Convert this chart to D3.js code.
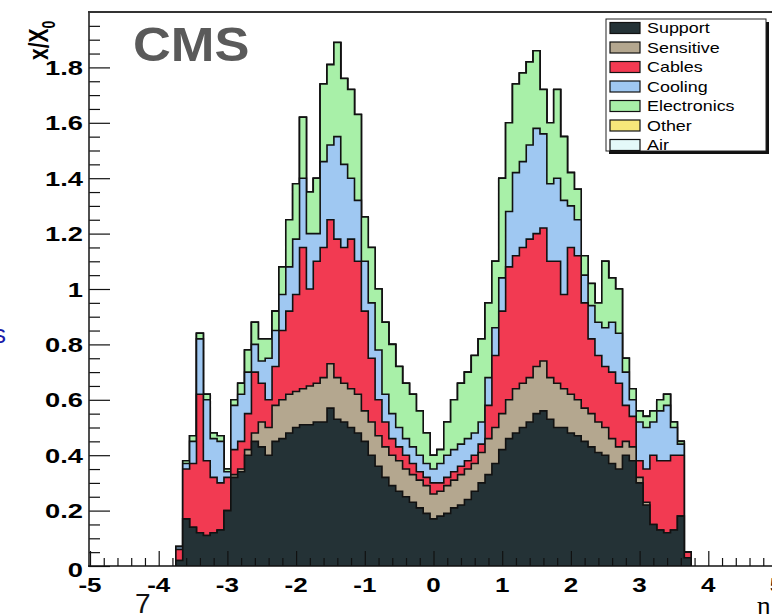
<!DOCTYPE html>
<html>
<head>
<meta charset="utf-8">
<script src="https://cdn.jsdelivr.net/npm/d3@7"></script>
<style>
  body { margin: 0; background: #fff; }
  svg { display: block; }
  text { font-family: "Liberation Sans", Arial, Helvetica, sans-serif; }
</style>
</head>
<body>
<div id="plot"></div>
<script>
// bin centres in eta, 0.1 wide
const etaCenters = d3.range(75).map((i) => +(-3.7 + 0.1 * i).toFixed(1));
const binWidth = 0.1;

// material budget per category, x/X0 (eta -3.7 ... 3.7)
const support = [
  0.02, 0.17, 0.14, 0.12, 0.11, 0.12, 0.13, 0.20, 0.32, 0.34,
  0.40, 0.45, 0.43, 0.40, 0.45, 0.46, 0.48, 0.50, 0.51, 0.51,
  0.52, 0.52, 0.57, 0.53, 0.52, 0.50, 0.48, 0.45, 0.40, 0.36,
  0.32, 0.29, 0.27, 0.25, 0.23, 0.21, 0.19, 0.17,
  0.18, 0.19, 0.21, 0.22, 0.24, 0.27, 0.30, 0.33, 0.37, 0.42,
  0.46, 0.48, 0.50, 0.52, 0.55, 0.56, 0.53, 0.50, 0.50, 0.48,
  0.47, 0.45, 0.43, 0.41, 0.40, 0.37, 0.35, 0.40, 0.38, 0.30,
  0.22, 0.15, 0.13, 0.12, 0.13, 0.18, 0.03,
];
const sensitive = [
  0, 0, 0, 0, 0, 0, 0, 0, 0.01, 0.01,
  0.02, 0.03, 0.09, 0.10, 0.13, 0.14, 0.14, 0.13, 0.13, 0.14,
  0.14, 0.16, 0.16, 0.15, 0.14, 0.14, 0.14, 0.11, 0.12, 0.11,
  0.11, 0.11, 0.11, 0.10, 0.10, 0.10, 0.10, 0.09,
  0.09, 0.10, 0.10, 0.11, 0.11, 0.10, 0.11, 0.13, 0.13, 0.13,
  0.14, 0.16, 0.16, 0.16, 0.17, 0.18, 0.15, 0.16, 0.14, 0.14,
  0.13, 0.12, 0.12, 0.11, 0.10, 0.09, 0.08, 0.05, 0.05, 0.02,
  0.01, 0, 0, 0, 0, 0, 0,
];
const cables = [
  0.04, 0.18, 0.23, 0.50, 0.27, 0.20, 0.17, 0.12, 0.09, 0.10,
  0.13, 0.22, 0.14, 0.10, 0.14, 0.25, 0.30, 0.35, 0.51, 0.35,
  0.44, 0.47, 0.52, 0.50, 0.49, 0.54, 0.48, 0.36, 0.23, 0.13,
  0.09, 0.06, 0.05, 0.05, 0.04, 0.03, 0.03, 0.04,
  0.03, 0.03, 0.03, 0.03, 0.03, 0.03, 0.03, 0.12, 0.26, 0.37,
  0.48, 0.48, 0.49, 0.50, 0.48, 0.48, 0.42, 0.44, 0.34, 0.53,
  0.52, 0.38, 0.27, 0.24, 0.22, 0.24, 0.23, 0.13, 0.11, 0.06,
  0.12, 0.25, 0.25, 0.26, 0.27, 0.22, 0.02,
];
const cooling = [
  0.01, 0.02, 0.08, 0.20, 0.22, 0.14, 0.15, 0.02, 0.16, 0.17,
  0.15, 0.10, 0.08, 0.15, 0.13, 0.13, 0.16, 0.20, 0.25, 0.20,
  0.10, 0.31, 0.27, 0.37, 0.30, 0.22, 0.22, 0.18, 0.20, 0.18,
  0.10, 0.09, 0.07, 0.06, 0.06, 0.06, 0.05, 0.05,
  0.07, 0.08, 0.08, 0.08, 0.08, 0.08, 0.08, 0.10, 0.10, 0.12,
  0.20, 0.30, 0.31, 0.34, 0.38, 0.34, 0.28, 0.30, 0.34, 0.15,
  0.13, 0.10, 0.12, 0.12, 0.14, 0.18, 0.18, 0.12, 0.06, 0.14,
  0.15, 0.12, 0.18, 0.20, 0.10, 0.04, 0,
];
const electronics = [
  0, 0.01, 0.02, 0.02, 0.02, 0.02, 0.02, 0.01, 0.02, 0.04,
  0.08, 0.08, 0.08, 0.07, 0.07, 0.10, 0.17, 0.20, 0.22, 0.15,
  0.20, 0.28, 0.29, 0.34, 0.31, 0.32, 0.31, 0.16, 0.20, 0.22,
  0.26, 0.25, 0.22, 0.20, 0.19, 0.16, 0.11, 0.05,
  0.05, 0.12, 0.18, 0.22, 0.24, 0.28, 0.30, 0.27, 0.24, 0.36,
  0.32, 0.32, 0.32, 0.30, 0.28, 0.16, 0.22, 0.32, 0.23, 0.12,
  0.11, 0.07, 0.08, 0.07, 0.24, 0.16, 0.16, 0.05, 0.04, 0.04,
  0.04, 0.04, 0.04, 0.04, 0.02, 0.01, 0,
];
const other = [
  0, 0, 0, 0, 0, 0, 0, 0, 0, 0, 0, 0, 0, 0, 0, 0, 0, 0, 0, 0,
  0, 0, 0, 0, 0, 0, 0, 0, 0, 0, 0, 0, 0, 0, 0, 0, 0, 0,
  0, 0, 0, 0, 0, 0, 0, 0, 0, 0, 0, 0, 0, 0, 0, 0, 0, 0, 0, 0,
  0, 0, 0, 0, 0, 0, 0, 0, 0, 0, 0, 0, 0, 0, 0, 0, 0,
];
const air = [
  0, 0, 0, 0, 0, 0, 0, 0, 0, 0, 0, 0, 0, 0, 0, 0, 0, 0, 0, 0,
  0, 0, 0, 0, 0, 0, 0, 0, 0, 0, 0, 0, 0, 0, 0, 0, 0, 0,
  0, 0, 0, 0, 0, 0, 0, 0, 0, 0, 0, 0, 0, 0, 0, 0, 0, 0, 0, 0,
  0, 0, 0, 0, 0, 0, 0, 0, 0, 0, 0, 0, 0, 0, 0, 0, 0,
];

const categories = ['Support', 'Sensitive', 'Cables', 'Cooling', 'Electronics', 'Other', 'Air'];
const series = [support, sensitive, cables, cooling, electronics, other, air];
const colors = ['#243236', '#b4a78f', '#f23a52', '#9fc8f2', '#a8f0a8', '#f6e77a', '#e4f9f9'];

const xTicks = [-5, -4, -3, -2, -1, 0, 1, 2, 3, 4, 5];
const yTicks = [0, 0.2, 0.4, 0.6, 0.8, 1, 1.2, 1.4, 1.6, 1.8];

const width = 772;
const height = 614;

const svg = d3.select('#plot')
  .append('svg')
  .attr('width', width)
  .attr('height', height);

svg.append('rect').attr('width', width).attr('height', height).attr('fill', '#fff');

const x = d3.scaleLinear().domain([-5, 5]).range([90, 777]);
const y = d3.scaleLinear().domain([0, 2]).range([566, 12]);

// stack the materials
const rows = etaCenters.map((c, i) => {
  const r = { eta: c };
  categories.forEach((k, j) => { r[k] = series[j][i]; });
  return r;
});
const stacked = d3.stack().keys(categories)(rows);

svg.append('clipPath').attr('id', 'frame')
  .append('rect').attr('x', 89).attr('y', 12).attr('width', 700).attr('height', 554);

const hist = svg.append('g').attr('clip-path', 'url(#frame)');

const stepArea = d3.area()
  .curve(d3.curveStepAfter)
  .x((d) => x(d.x))
  .y0(y(0))
  .y1((d) => y(d.v));
const stepLine = d3.line()
  .curve(d3.curveStepAfter)
  .x((d) => x(d.x))
  .y((d) => y(d.v));

// ROOT draws the stack from the top histogram down
for (let j = stacked.length - 1; j >= 0; j--) {
  const layer = stacked[j];
  const pts = layer.map((d, i) => ({ x: etaCenters[i] - binWidth / 2, v: d[1] }));
  pts.push({ x: etaCenters[etaCenters.length - 1] + binWidth / 2, v: layer[layer.length - 1][1] });
  hist.append('path')
    .attr('d', stepArea(pts))
    .attr('fill', colors[j]);
  const outline = [{ x: pts[0].x, v: 0 }, ...pts, { x: pts[pts.length - 1].x, v: 0 }];
  hist.append('path')
    .attr('d', stepLine(outline))
    .attr('fill', 'none')
    .attr('stroke', '#111')
    .attr('stroke-width', 1.6);
}

// axes ticks, drawn inward like ROOT
const yMinor = d3.range(0, 2.001, 0.05).filter((v) => Math.abs(v * 5 - Math.round(v * 5)) > 1e-6);
const xMinor = d3.range(-5, 5.001, 0.2).filter((v) => Math.abs(v - Math.round(v)) > 1e-6);

const tickAxis = (g) => {
  g.select('.domain').remove();
  g.selectAll('line').attr('stroke', '#111').attr('stroke-width', 1.2);
};

svg.append('g').attr('transform', 'translate(89,0)')
  .call(d3.axisRight(y).tickValues(yTicks).tickSize(21).tickFormat(''))
  .call(tickAxis);
svg.append('g').attr('transform', 'translate(89,0)')
  .call(d3.axisRight(y).tickValues(yMinor).tickSize(11).tickFormat(''))
  .call(tickAxis);
svg.append('g').attr('transform', 'translate(0,566)')
  .call(d3.axisTop(x).tickValues(xTicks).tickSize(15).tickFormat(''))
  .call(tickAxis);
svg.append('g').attr('transform', 'translate(0,566)')
  .call(d3.axisTop(x).tickValues(xMinor).tickSize(8).tickFormat(''))
  .call(tickAxis);

// frame
svg.append('line').attr('x1', 89).attr('x2', 89).attr('y1', 11).attr('y2', 567)
  .attr('stroke', '#222').attr('stroke-width', 1.6);
svg.append('line').attr('x1', 88).attr('x2', width).attr('y1', 12).attr('y2', 12)
  .attr('stroke', '#333').attr('stroke-width', 2.2);
svg.append('line').attr('x1', 88).attr('x2', width).attr('y1', 566).attr('y2', 566)
  .attr('stroke', '#111').attr('stroke-width', 1.6);

// tick labels (the slide is stretched sideways, so the text is too)
yTicks.forEach((v) => {
  svg.append('text')
    .attr('transform', `translate(83,${v === 0 ? 577 : y(v) + 7.5}) scale(1.3,1)`)
    .attr('text-anchor', 'end')
    .style('font-size', '21px')
    .style('font-weight', 'bold')
    .text(String(+v.toFixed(1)));
});
xTicks.forEach((v) => {
  svg.append('text')
    .attr('transform', `translate(${x(v)},592) scale(1.3,1)`)
    .attr('text-anchor', 'middle')
    .style('font-size', '20px')
    .style('font-weight', 'bold')
    .text(String(v));
});

// axis titles
const yTitle = svg.append('text')
  .attr('transform', 'translate(48,60) scale(1.3,1) rotate(-90)')
  .style('font-size', '21px')
  .style('font-weight', 'bold');
yTitle.append('tspan').text('x/X');
yTitle.append('tspan').attr('dy', 5).style('font-size', '14px').text('0');

svg.append('text')
  .attr('x', 757).attr('y', 614)
  .style('font-family', '"Liberation Serif", "DejaVu Serif", serif')
  .style('font-size', '26px')
  .text('η');

// CMS label
svg.append('text')
  .attr('transform', 'translate(133,61) scale(1.07,1)')
  .style('font-size', '49px')
  .style('font-weight', 'bold')
  .attr('fill', '#5a5a5a')
  .text('CMS');

// legend
const legend = svg.append('g');
legend.append('rect').attr('x', 609).attr('y', 22).attr('width', 160).attr('height', 132).attr('fill', '#111');
legend.append('rect').attr('x', 606).attr('y', 19).attr('width', 160).attr('height', 132)
  .attr('fill', '#fff').attr('stroke', '#222').attr('stroke-width', 1);
categories.forEach((k, i) => {
  const cy = 28 + i * 19.5;
  legend.append('rect')
    .attr('x', 610).attr('y', cy - 5.5).attr('width', 30).attr('height', 11)
    .attr('fill', colors[i]).attr('stroke', '#111').attr('stroke-width', 1.2);
  legend.append('text')
    .attr('transform', `translate(647,${cy + 5}) scale(1.28,1)`)
    .style('font-size', '14px')
    .text(k);
});

// bits of the surrounding slide
svg.append('text').attr('x', -7).attr('y', 343)
  .style('font-size', '26px').attr('fill', '#1a1aa8').text('s');
svg.append('text').attr('x', 135).attr('y', 613)
  .style('font-size', '28px').attr('fill', '#111').text('7');
</script>
</body>
</html>
